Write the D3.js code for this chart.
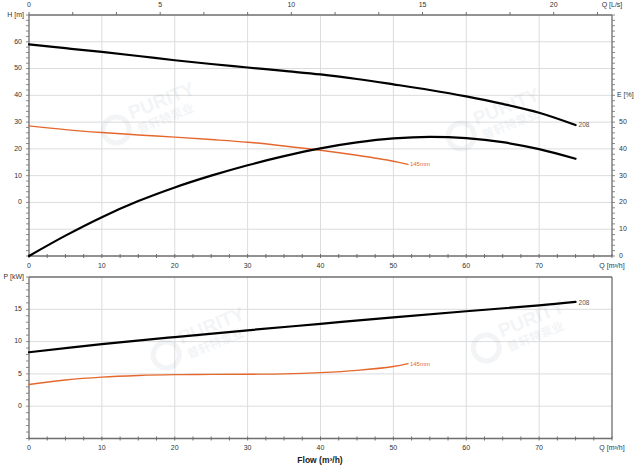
<!DOCTYPE html>
<html><head><meta charset="utf-8">
<script src="https://cdn.jsdelivr.net/npm/d3@7"></script>
<style>
html,body{margin:0;padding:0;background:#fff;}
svg{display:block;font-family:"Liberation Sans",Arial,sans-serif;}
</style></head>
<body><svg id="c" width="640" height="468"></svg>
<script>
// ---- data ----
const flowTicks = [0,10,20,30,40,50,60,70];
const lsTicks = [0,5,10,15,20];
const headTicks = [0,10,20,30,40,50,60];
const effTicks = [0,10,20,30,40,50];
const powerTicks = [0,5,10,15];

const q208 = [0,5,10,15,20,25,30,35,40,45,50,55,60,65,70,75];
const head208 = [59.0,57.6,56.2,54.7,53.1,51.7,50.4,49.1,47.8,46.1,44.1,42.0,39.6,36.8,33.5,28.9];
const eff208 = [0,7.6,14.5,20.5,25.6,30.0,33.9,37.3,40.2,42.4,43.9,44.5,44.0,42.5,39.9,36.3];
const q208p = [0,10,20,30,40,50,60,70,75];
const power208 = [8.35,9.6,10.7,11.75,12.75,13.75,14.7,15.6,16.15];

const q145 = [0,5,10,15,20,25,30,35,40,45,50,52];
const head145 = [28.6,27.2,26.1,25.2,24.4,23.5,22.5,21.1,19.5,17.6,15.4,14.2];
const q145p = [0,5,10,15,20,25,30,35,40,45,50,52];
const power145 = [3.35,4.05,4.5,4.75,4.88,4.92,4.95,5.0,5.2,5.55,6.15,6.6];

const label208 = "208";
const label145 = "145mm";

// ---- layout ----
const svg = d3.select("#c");
const L = 29, R = 612;
const x = d3.scaleLinear([0,80],[L,R]);
const xLs = d3.scaleLinear([0,80/3.6],[L,R]);
const yH = d3.scaleLinear([-20,70],[256,15]);
const yE = d3.scaleLinear([0,90],[256,15]);
const yP = d3.scaleLinear([-5,20],[438.5,277]);

const grid = "#dcdcdc", axisCol = "#6e6e6e", txt = "#333", orange = "#e4682e";
const fs = 7;

function panel(yScale, yMin, yMax, gridVals){
  const g = svg.append("g");
  g.selectAll(null).data(flowTicks.filter(d=>d>0)).join("line")
    .attr("x1",d=>x(d)).attr("x2",d=>x(d)).attr("y1",yScale(yMin)).attr("y2",yScale(yMax))
    .attr("stroke",grid).attr("stroke-width",1);
  g.selectAll(null).data(gridVals).join("line")
    .attr("x1",L).attr("x2",R).attr("y1",d=>yScale(d)).attr("y2",d=>yScale(d))
    .attr("stroke",grid).attr("stroke-width",1);
  g.append("line").attr("x1",L).attr("x2",R).attr("y1",yScale(yMax)).attr("y2",yScale(yMax)).attr("stroke",axisCol).attr("stroke-width",1.3);
  g.append("line").attr("x1",L).attr("x2",R).attr("y1",yScale(yMin)).attr("y2",yScale(yMin)).attr("stroke",axisCol).attr("stroke-width",1.3);
  g.append("line").attr("x1",L).attr("x2",L).attr("y1",yScale(yMin)).attr("y2",yScale(yMax)).attr("stroke",axisCol).attr("stroke-width",1.3);
  g.append("line").attr("x1",R).attr("x2",R).attr("y1",yScale(yMin)).attr("y2",yScale(yMax)).attr("stroke",axisCol).attr("stroke-width",1.3);
  g.selectAll(null).data(d3.range(0,80.01,2.5)).join("line")
    .attr("x1",d=>x(d)).attr("x2",d=>x(d)).attr("y1",yScale(yMin)-2).attr("y2",yScale(yMin)+2)
    .attr("stroke",axisCol).attr("stroke-width",1);
  const step = (gridVals[1]-gridVals[0])/5;
  g.selectAll(null).data(d3.range(yMin,yMax+0.001,step)).join("line")
    .attr("x1",L-3).attr("x2",L).attr("y1",d=>yScale(d)).attr("y2",d=>yScale(d))
    .attr("stroke",axisCol).attr("stroke-width",0.8);
  return g;
}

const gTop = panel(yH,-20,70,d3.range(-10,61,10));
gTop.selectAll(null).data(d3.range(0,22.3,5/3)).join("line")
  .attr("x1",d=>xLs(d)).attr("x2",d=>xLs(d)).attr("y1",yH(70)-3).attr("y2",yH(70))
  .attr("stroke",axisCol).attr("stroke-width",1);
gTop.selectAll(null).data(d3.range(0,90.01,2)).join("line")
  .attr("x1",R).attr("x2",R+3).attr("y1",d=>yE(d)).attr("y2",d=>yE(d))
  .attr("stroke",axisCol).attr("stroke-width",0.8);

const gBot = panel(yP,-5,20,d3.range(0,16,5));

// ---- watermarks ----
function watermark(cx,cy){
  const w = svg.append("g").attr("transform",`translate(${cx},${cy}) rotate(-22)`).attr("opacity",0.09);
  w.append("circle").attr("cx",-38).attr("cy",4).attr("r",13).attr("fill","none").attr("stroke","#7890a8").attr("stroke-width",5);
  w.append("text").attr("x",-20).attr("y",0).attr("font-size",19).attr("font-weight","bold").attr("fill","#7890a8").text("PURITY");
  w.append("text").attr("x",-18).attr("y",16).attr("font-size",12).attr("font-family","Noto Sans CJK SC").attr("font-weight","bold").attr("fill","#7890a8").text("普轩特泵业");
}
watermark(150,112);
watermark(495,118);
watermark(200,337);
watermark(520,330);

// ---- axis labels ----
function txtAt(t,xx,yy,anchor,col,size,weight){
  svg.append("text").attr("x",xx).attr("y",yy).attr("text-anchor",anchor||"middle")
    .attr("dominant-baseline","middle").attr("font-size",size||fs).attr("fill",col||txt)
    .attr("font-weight",weight||"normal").text(t);
}
lsTicks.forEach(d=>txtAt(d, xLs(d), 5));
txtAt("Q [L/s]", R, 5);
headTicks.forEach(d=>txtAt(d, 22, yH(d), "end"));
txtAt("H [m]", 24, yH(70), "end");
effTicks.forEach(d=>txtAt(d, 619, yE(d), "start"));
txtAt("E [%]", 617, yE(60), "start");
flowTicks.forEach(d=>txtAt(d, x(d), 266));
txtAt("Q [m³/h]", R, 266);
powerTicks.forEach(d=>txtAt(d, 22, yP(d), "end"));
txtAt("P [kW]", 24, yP(20), "end");
flowTicks.forEach(d=>txtAt(d, x(d), 448));
txtAt("Q [m³/h]", R, 448);
txtAt("Flow (m³/h)", 320, 461, "middle", "#222", 8.5, "bold");

// ---- curves ----
function curve(qs, vals, ys, col, w){
  const line = d3.line().x(d=>x(d[0])).y(d=>ys(d[1])).curve(d3.curveCatmullRom.alpha(0.5));
  svg.append("path").datum(qs.map((q,i)=>[q,vals[i]])).attr("d",line)
    .attr("fill","none").attr("stroke",col).attr("stroke-width",w).attr("stroke-linecap","round");
}
curve(q145, head145, yH, orange, 1.4);
curve(q208, head208, yH, "#000", 2.2);
curve(q208, eff208, yE, "#000", 2.2);
curve(q145p, power145, yP, orange, 1.4);
curve(q208p, power208, yP, "#000", 2.2);

txtAt(label208, x(q208[q208.length-1])+3, yH(head208[head208.length-1]), "start", "#555", 6.5);
txtAt(label145, x(q145[q145.length-1])+2, yH(head145[head145.length-1]), "start", orange, 6);
txtAt(label208, x(q208p[q208p.length-1])+3, yP(power208[power208.length-1])+1, "start", "#555", 6.5);
txtAt(label145, x(q145p[q145p.length-1])+2, yP(power145[power145.length-1])+1, "start", orange, 6);
</script></body></html>
